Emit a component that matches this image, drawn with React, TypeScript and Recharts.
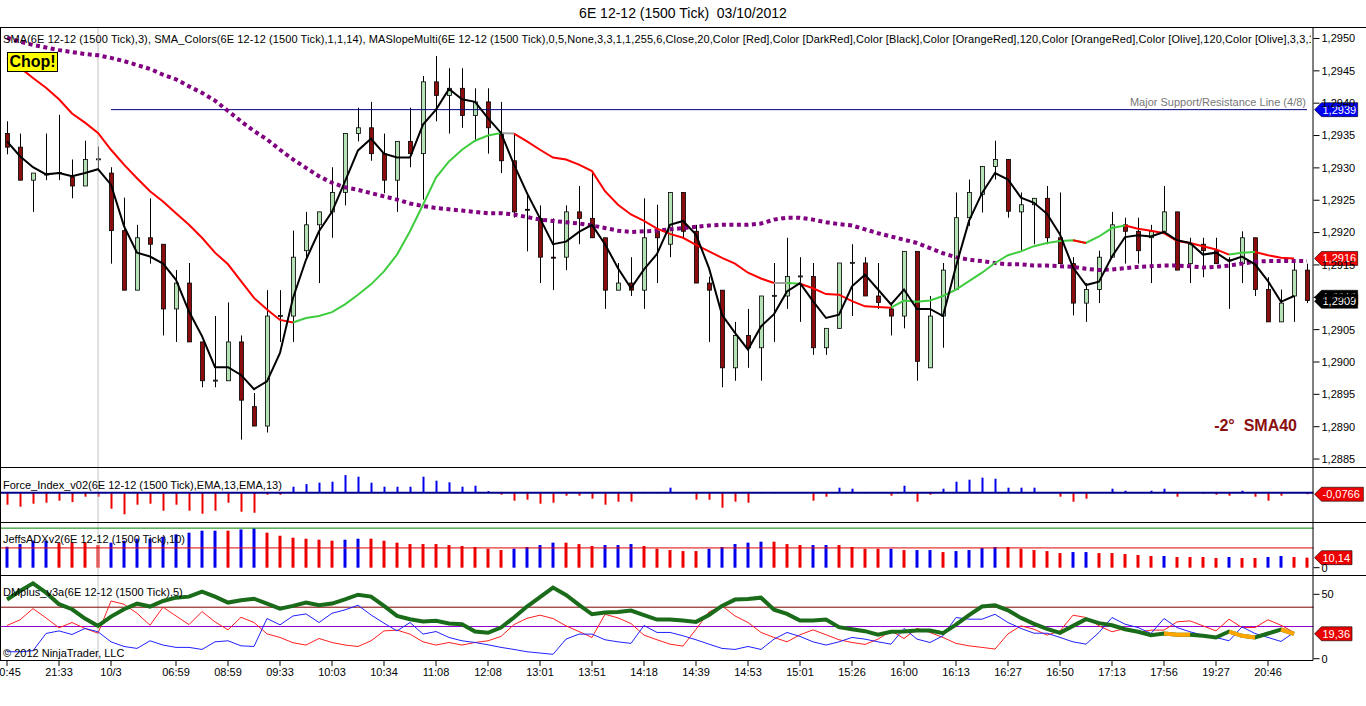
import React from 'react';
import { ComposedChart, Bar, Line, XAxis, YAxis, ReferenceLine, Cell } from 'recharts';

const FONT = '"Liberation Sans", Arial, sans-serif';
const W = 1366;
const AXIS_W = 52.5;

// 1500 tick candles, 6E 12-12
const opens = [
  1.29353, 1.29332, 1.29281, 1.29289, 1.29292, 1.29286, 1.29272, 1.29313, 1.29292, 1.29203,
  1.29111, 1.29192, 1.29182, 1.29082, 1.29122, 1.29031, 1.28971, 1.28971, 1.29031, 1.28931,
  1.28901, 1.29071, 1.29071, 1.29172, 1.29212, 1.29232, 1.29262, 1.29353, 1.29362, 1.29322,
  1.29281, 1.29341, 1.29322, 1.29433, 1.29412, 1.29423, 1.29381, 1.29402, 1.29352, 1.29311,
  1.29236, 1.29222, 1.29162, 1.29162, 1.29232, 1.29222, 1.29192, 1.29111, 1.29122, 1.29111,
  1.29202, 1.29182, 1.29262, 1.29202, 1.29122, 1.29111, 1.28991, 1.29041, 1.29022, 1.29102,
  1.29102, 1.29132, 1.29132, 1.29022, 1.29052, 1.29153, 1.29153, 1.29102, 1.29082, 1.29071,
  1.29171, 1.28991, 1.29071, 1.29112, 1.29223, 1.29259, 1.29302, 1.29313, 1.29232, 1.29243,
  1.29253, 1.29192, 1.29152, 1.29091, 1.29112, 1.29162, 1.29212, 1.29202, 1.29192, 1.29202,
  1.29232, 1.29152, 1.29182, 1.29172, 1.29158, 1.29152, 1.29192, 1.29112, 1.29062, 1.29102,
  1.29142,
];
const highs = [
  1.29372, 1.29353, 1.29292, 1.29353, 1.29382, 1.29313, 1.29342, 1.29333, 1.29301, 1.29254,
  1.29212, 1.29253, 1.29182, 1.29142, 1.29153, 1.29031, 1.29071, 1.29092, 1.29041, 1.28952,
  1.29111, 1.29111, 1.29203, 1.29232, 1.29232, 1.29301, 1.29353, 1.29393, 1.29402, 1.29353,
  1.29341, 1.29393, 1.29442, 1.29473, 1.29454, 1.29454, 1.29423, 1.29423, 1.29402, 1.29353,
  1.29262, 1.29242, 1.29222, 1.29242, 1.29272, 1.29292, 1.29192, 1.29153, 1.29162, 1.29253,
  1.29243, 1.29262, 1.29262, 1.29212, 1.29132, 1.29111, 1.29062, 1.29082, 1.29102, 1.29153,
  1.29192, 1.29162, 1.29153, 1.29052, 1.29153, 1.29182, 1.29162, 1.29153, 1.29092, 1.29171,
  1.29171, 1.29102, 1.29153, 1.29262, 1.29282, 1.29302, 1.29342, 1.29313, 1.29262, 1.29253,
  1.29272, 1.29262, 1.29162, 1.29122, 1.29172, 1.29232, 1.29223, 1.29223, 1.29212, 1.29272,
  1.29232, 1.29192, 1.29192, 1.29192, 1.29162, 1.29202, 1.29192, 1.29131, 1.29112, 1.29157,
  1.29152,
];
const lows = [
  1.29321, 1.29281, 1.29232, 1.29281, 1.29281, 1.29253, 1.29272, 1.29295, 1.29152, 1.29111,
  1.29111, 1.29152, 1.29041, 1.29031, 1.29031, 1.28961, 1.28961, 1.28971, 1.28880, 1.28901,
  1.28891, 1.29031, 1.29031, 1.29162, 1.29122, 1.29192, 1.29242, 1.29341, 1.29311, 1.29261,
  1.29232, 1.29301, 1.29251, 1.29372, 1.29353, 1.29362, 1.29341, 1.29322, 1.29292, 1.29223,
  1.29171, 1.29122, 1.29111, 1.29142, 1.29182, 1.29192, 1.29082, 1.29111, 1.29102, 1.29082,
  1.29122, 1.29162, 1.29192, 1.29122, 1.29031, 1.28961, 1.28971, 1.28991, 1.28971, 1.29031,
  1.29082, 1.29062, 1.29011, 1.29011, 1.29052, 1.29071, 1.29102, 1.29082, 1.29041, 1.29052,
  1.28971, 1.28991, 1.29022, 1.29112, 1.29210, 1.29231, 1.29282, 1.29223, 1.29171, 1.29182,
  1.29182, 1.29152, 1.29072, 1.29062, 1.29091, 1.29162, 1.29152, 1.29152, 1.29122, 1.29202,
  1.29142, 1.29122, 1.29131, 1.29152, 1.29082, 1.29122, 1.29102, 1.29062, 1.29062, 1.29062,
  1.29091,
];
const closes = [
  1.29332, 1.29281, 1.29292, 1.29291, 1.29293, 1.29272, 1.29313, 1.29314, 1.29203, 1.29111,
  1.29192, 1.29182, 1.29082, 1.29122, 1.29031, 1.28971, 1.28972, 1.29031, 1.28941, 1.28901,
  1.29071, 1.29072, 1.29162, 1.29212, 1.29232, 1.29262, 1.29353, 1.29362, 1.29322, 1.29281,
  1.29341, 1.29322, 1.29433, 1.29412, 1.29423, 1.29381, 1.29402, 1.29362, 1.29311, 1.29232,
  1.29235, 1.29162, 1.29161, 1.29232, 1.29222, 1.29192, 1.29111, 1.29122, 1.29111, 1.29192,
  1.29192, 1.29262, 1.29202, 1.29122, 1.29111, 1.28991, 1.29041, 1.29022, 1.29102, 1.29103,
  1.29132, 1.29133, 1.29022, 1.29052, 1.29153, 1.29154, 1.29102, 1.29092, 1.29071, 1.29171,
  1.29001, 1.29071, 1.29142, 1.29223, 1.29262, 1.29302, 1.29313, 1.29233, 1.29243, 1.29253,
  1.29192, 1.29152, 1.29091, 1.29112, 1.29162, 1.29212, 1.29202, 1.29172, 1.29202, 1.29232,
  1.29142, 1.29182, 1.29172, 1.29152, 1.29157, 1.29192, 1.29112, 1.29062, 1.29091, 1.29142,
  1.29095,
];

// SMA(3), black
const sma3 = [
  1.29341, 1.29318, 1.29301, 1.29290, 1.29292, 1.29287, 1.29292, 1.29298, 1.29274, 1.29210,
  1.29169, 1.29163, 1.29152, 1.29127, 1.29078, 1.29040, 1.28992, 1.28992, 1.28980, 1.28958,
  1.28970, 1.29014, 1.29099, 1.29158, 1.29202, 1.29232, 1.29279, 1.29327, 1.29345, 1.29322,
  1.29316, 1.29316, 1.29367, 1.29390, 1.29422, 1.29406, 1.29402, 1.29377, 1.29354, 1.29305,
  1.29261, 1.29222, 1.29182, 1.29186, 1.29201, 1.29212, 1.29182, 1.29145, 1.29114, 1.29143,
  1.29167, 1.29212, 1.29218, 1.29197, 1.29145, 1.29073, 1.29045, 1.29019, 1.29055, 1.29074,
  1.29109, 1.29122, 1.29094, 1.29068, 1.29073, 1.29117, 1.29135, 1.29112, 1.29089, 1.29112,
  1.29082, 1.29082, 1.29071, 1.29148, 1.29218, 1.29261, 1.29292, 1.29282, 1.29254, 1.29246,
  1.29229, 1.29197, 1.29146, 1.29119, 1.29124, 1.29163, 1.29193, 1.29196, 1.29194, 1.29201,
  1.29188, 1.29184, 1.29166, 1.29169, 1.29156, 1.29163, 1.29151, 1.29125, 1.29093, 1.29102,
  null,
];

// SMA_Colors(14): value + colour segments
const sma14 = [
  1.29470, 1.29455, 1.29439, 1.29424, 1.29406, 1.29384, 1.29370, 1.29354, 1.29328, 1.29305,
  1.29284, 1.29264, 1.29248, 1.29230, 1.29212, 1.29192, 1.29169, 1.29151, 1.29125, 1.29099,
  1.29081, 1.29065, 1.29061, 1.29068, 1.29071, 1.29077, 1.29089, 1.29104, 1.29120, 1.29140,
  1.29166, 1.29202, 1.29243, 1.29285, 1.29310, 1.29328, 1.29342, 1.29350, 1.29354, 1.29353,
  1.29341, 1.29328, 1.29316, 1.29313, 1.29305, 1.29295, 1.29264, 1.29243, 1.29228, 1.29218,
  1.29206, 1.29198, 1.29192, 1.29181, 1.29171, 1.29161, 1.29152, 1.29138, 1.29129, 1.29122,
  1.29122, 1.29121, 1.29114, 1.29105, 1.29104, 1.29094, 1.29086, 1.29085, 1.29084, 1.29095,
  1.29093, 1.29095, 1.29102, 1.29112, 1.29125, 1.29138, 1.29153, 1.29165, 1.29171, 1.29179,
  1.29184, 1.29187, 1.29188, 1.29184, 1.29194, 1.29207, 1.29211, 1.29206, 1.29203, 1.29199,
  1.29187, 1.29184, 1.29179, 1.29174, 1.29166, 1.29169, 1.29170, 1.29165, 1.29161, 1.29160,
  null,
];
const smaSegments: [number, number, string][] = [
  [0, 22, 'red'], [22, 38, 'green'], [38, 39, 'gray'], [39, 59, 'red'], [59, 60, 'gray'],
  [60, 61, 'green'], [61, 68, 'red'], [68, 82, 'green'], [82, 83, 'red'], [83, 86, 'green'],
  [86, 94, 'red'], [94, 96, 'green'], [96, 99, 'red'],
];

// MASlopeMulti long average, purple dotted
const sma120 = [
  1.29501, 1.29495, 1.29490, 1.29486, 1.29482, 1.29479, 1.29476, 1.29474, 1.29470, 1.29465,
  1.29459, 1.29453, 1.29444, 1.29437, 1.29426, 1.29416, 1.29404, 1.29388, 1.29372, 1.29357,
  1.29344, 1.29328, 1.29313, 1.29300, 1.29287, 1.29277, 1.29270, 1.29266, 1.29261, 1.29256,
  1.29251, 1.29245, 1.29241, 1.29238, 1.29236, 1.29234, 1.29232, 1.29230, 1.29230, 1.29228,
  1.29224, 1.29220, 1.29218, 1.29216, 1.29214, 1.29211, 1.29207, 1.29203, 1.29201, 1.29202,
  1.29203, 1.29205, 1.29207, 1.29209, 1.29211, 1.29212, 1.29212, 1.29212, 1.29214, 1.29220,
  1.29223, 1.29223, 1.29220, 1.29216, 1.29213, 1.29211, 1.29205, 1.29199, 1.29194, 1.29189,
  1.29184, 1.29176, 1.29168, 1.29162, 1.29158, 1.29156, 1.29153, 1.29151, 1.29151, 1.29149,
  1.29149, 1.29148, 1.29147, 1.29144, 1.29142, 1.29143, 1.29145, 1.29147, 1.29148, 1.29149,
  1.29149, 1.29148, 1.29146, 1.29147, 1.29149, 1.29152, 1.29155, 1.29156, 1.29156, 1.29156,
  1.29156,
];

const forceIndex = [
  -0.60, -0.70, -0.55, -0.50, -0.40, -0.47, -0.20, -0.20, -0.80, -1.08,
  -0.60, -0.55, -0.90, -0.60, -0.90, -1.05, -0.90, -0.50, -0.95, -1.00,
  -0.10, -0.10, 0.30, 0.43, 0.50, 0.55, 0.88, 0.80, 0.50, 0.30,
  0.30, 0.30, 0.80, 0.60, 0.52, 0.30, 0.35, 0.08, -0.10, -0.40,
  -0.35, -0.55, -0.50, -0.15, -0.15, -0.30, -0.60, -0.45, -0.45, -0.03,
  -0.03, 0.25, 0.0, -0.35, -0.35, -0.75, -0.45, -0.50, -0.03, -0.03,
  0.0, 0.01, -0.40, -0.20, 0.25, 0.20, -0.03, 0.01, -0.15, 0.35,
  -0.45, -0.10, 0.20, 0.55, 0.65, 0.75, 0.70, 0.25, 0.25, 0.25,
  -0.02, -0.20, -0.45, -0.30, 0.01, 0.20, 0.10, 0.02, 0.10, 0.20,
  -0.20, 0.01, -0.05, -0.10, -0.15, 0.10, -0.20, -0.40, -0.15, 0.01,
  -0.0766,
];

const adx = [
  21.2, 23.9, 27.3, 27.3, 25.3, 25.3, 25.3, 22.9, 25.3, 27.3,
  29.3, 29.3, 31.3, 33.7, 35.4, 37.4, 37.4, 37.4, 38.7, 39.7,
  35.4, 32.3, 30.3, 29.3, 28.3, 27.3, 28.3, 29.3, 29.3, 27.3,
  25.3, 23.9, 23.9, 23.9, 22.9, 21.9, 20.9, 19.2, 17.8, 19.2,
  20.9, 22.9, 25.3, 25.3, 23.9, 21.9, 22.9, 22.9, 23.9, 21.9,
  19.2, 17.8, 16.8, 16.8, 19.2, 20.9, 23.9, 25.3, 26.3, 26.3,
  23.9, 22.9, 22.9, 22.9, 22.9, 20.9, 19.2, 19.2, 19.2, 17.8,
  17.8, 17.8, 15.8, 16.8, 17.8, 19.9, 20.9, 20.9, 19.2, 17.8,
  16.8, 14.8, 15.8, 15.8, 14.8, 14.8, 13.8, 12.8, 11.8, 11.8,
  10.8, 10.8, 10.8, 9.8, 10.8, 9.8, 9.8, 10.8, 11.8, 10.8,
  10.14,
];
// b = rising (blue), r = falling (red)
const adxDir = (
  'bbbb' + 'rrrr' + 'bbbbbbbbb' + 'r' + 'bb' + 'rrrrrr' + 'bb' + 'rrrrrrrrrrr' + 'bbbb' + 'rrr' +
  'bbb' + 'rrrrr' + 'bbbbb' + 'rrr' + 'bb' + 'rrrr' + 'b' + 'r' + 'bb' + 'r' + 'bbbb' + 'rrrrr' +
  'bb' + 'rrrrr' + 'b' + 'rrrr' + 'b' + 'rr' + 'bb' + 'rr'
).split('');

const dmTrend = [
  46, 52.6, 58.5, 51.3, 42.3, 38.4, 31.2, 25.5, 32.7, 38.4,
  42.8, 40.5, 44.8, 47.4, 48.2, 52, 48.2, 43.6, 45.4, 46.6,
  42.8, 38.9, 41, 43.6, 41.5, 42.8, 46.1, 49.7, 48.2, 41,
  33.2, 30.7, 28.9, 29.4, 27.3, 26.8, 21.1, 20.1, 24.2, 32,
  40.5, 47.9, 55.2, 49.5, 41.8, 34.5, 35.8, 36.3, 37.4, 33.8,
  30.4, 30.4, 29.6, 28.6, 34, 41, 45.9, 46.4, 47.4, 38.1,
  34.8, 29.6, 29.6, 30.4, 24.5, 22.9, 21.4, 18.6, 20.9, 21.1,
  21.9, 21.9, 19.8, 26.5, 33.8, 40.5, 41.5, 37.6, 31.7, 27.1,
  23.2, 20.1, 25.5, 30.7, 27.6, 26, 22.9, 20.9, 18.3, 19.6,
  18.6, 18.6, 17.8, 16.5, 21.1, 17.8, 16.5, 19.6, 22.7, 19.36,
  null,
];
const dmOrangeSegments: [number, number][] = [[89, 91], [94, 96], [98, 99]];
const dmRed = [
  25.8, 30.2, 38.9, 31.7, 24, 28.1, 23.5, 19.8, 44.8, 42.3,
  35.3, 26, 40, 33.2, 26.5, 36.6, 28.6, 22.4, 32.2, 28.1,
  19.3, 16.5, 12.4, 10.6, 15.7, 12.6, 10.6, 9.5, 13.9, 21.6,
  22.2, 19.1, 13.1, 10.6, 12.6, 10.6, 12.6, 13.9, 17.3, 26.5,
  31.4, 33.8, 31.2, 25.5, 21.1, 16.5, 34.5, 31.7, 27.3, 18.3,
  14.7, 11.3, 9.8, 22.9, 36.3, 41, 33.2, 28.1, 20.4, 16.5,
  13.1, 18.6, 22.4, 18.6, 14.7, 12.6, 11.1, 15.2, 21.6, 15.7,
  23.5, 20.4, 16.5, 11.9, 10, 8.8, 7.5, 19.3, 25.5, 22.9,
  18.3, 21.6, 33.8, 32, 25.5, 20.9, 23.5, 20.4, 22.2, 22.2,
  28.6, 29.4, 25.5, 21.6, 30.7, 24.2, 24.2, 30.2, 26, 20.4,
  null,
];
const dmBlue = [
  5.4, 5.4, 6.2, 19.6, 21.6, 18.8, 23.5, 20.9, 13.1, 9.5,
  8, 13.9, 10.6, 8.8, 8.8, 7.2, 13.1, 13.9, 10, 9.5,
  31.2, 26.3, 33.2, 34.8, 28.1, 35.3, 37.9, 41.5, 34, 27.6,
  21.6, 28.1, 19.1, 21.1, 16.5, 13.9, 12.6, 10.8, 8.8, 7.2,
  5.4, 4.4, 3.4, 15.2, 19.1, 19.1, 14.7, 13.1, 11.9, 25.8,
  20.4, 20.4, 17.8, 14.7, 11.3, 8, 7.2, 9.5, 7.2, 15.2,
  20.4, 17.3, 13.1, 10.6, 13.1, 16.5, 15.2, 13.1, 11.3, 23.5,
  15.2, 12.6, 17.8, 32, 30.7, 30.7, 34.5, 28.1, 23.5, 19.8,
  19.8, 16.5, 13.1, 11.3, 20.4, 32, 26.8, 24.2, 19.6, 31.2,
  24.2, 20.9, 18.3, 16.5, 13.9, 24.7, 19.6, 16.5, 13.4, 20.4,
  null,
];

const tickIdx = [0, 4, 8, 13, 17, 21, 25, 29, 33, 37, 41, 45, 49, 53, 57, 61, 65, 69, 73, 77, 81, 85, 89, 93, 97];
const tickText = [
  '20:45', '21:33', '10/3', '06:59', '08:59', '09:33', '10:03', '10:34', '11:08', '12:08', '13:01', '13:51',
  '14:18', '14:39', '14:53', '15:01', '15:26', '16:00', '16:13', '16:27', '16:50', '17:13', '17:56', '19:27', '20:46',
];
const priceTicks = [1.2885, 1.289, 1.2895, 1.29, 1.2905, 1.291, 1.2915, 1.292, 1.2925, 1.293, 1.2935, 1.294, 1.2945, 1.295];

const inSeg = (i: number, color: string) => smaSegments.some(([a, b, c]) => c === color && i >= a && i <= b);
const inOrange = (i: number) => dmOrangeSegments.some(([a, b]) => i >= a && i <= b);

const rows = opens.map((open, i) => ({
  i,
  open,
  high: highs[i],
  low: lows[i],
  close: closes[i],
  sma3: sma3[i],
  slow: sma120[i],
  smaRed: inSeg(i, 'red') ? sma14[i] : null,
  smaGreen: inSeg(i, 'green') ? sma14[i] : null,
  smaGray: inSeg(i, 'gray') ? sma14[i] : null,
  force: forceIndex[i],
  adx: adx[i],
  dir: adxDir[i],
  dmTrend: dmTrend[i],
  dmOrange: inOrange(i) ? dmTrend[i] : null,
  dmRed: dmRed[i],
  dmBlue: dmBlue[i],
}));

const fmtPrice = (v: number) => v.toFixed(4).replace('.', ',');
const tickLabel = (v: number) => {
  const k = tickIdx.indexOf(v);
  return k >= 0 ? tickText[k] : '';
};

function Candle(props: any) {
  const { x, y, width, height, payload } = props;
  if (!payload || height == null) return null;
  const top = Math.min(y, y + height);
  const h = Math.abs(height);
  const { open, close, high, low } = payload;
  const k = high > low ? h / (high - low) : 0;
  const yOf = (v: number) => top + (high - v) * k;
  const cx = Math.round(x + width / 2) + 0.5;
  const up = close >= open;
  const bTop = yOf(Math.max(open, close));
  const bBot = yOf(Math.min(open, close));
  return (
    <g>
      <line x1={cx} x2={cx} y1={top} y2={top + h} stroke="#000" strokeWidth={1} />
      <rect
        x={cx - 2}
        y={bTop}
        width={4}
        height={Math.max(bBot - bTop, 1)}
        fill={up ? '#b4e2b4' : '#8b0c0c'}
        stroke="#000"
        strokeWidth={0.8}
      />
    </g>
  );
}

function PriceTag(props: any) {
  const { viewBox, text, fill } = props;
  if (!viewBox) return null;
  const x0 = viewBox.x + viewBox.width + 1;
  const y0 = viewBox.y;
  const bx = x0 + 7;
  const bw = text.length * 5.7 + 2;
  const h = 14;
  return (
    <g>
      <path
        d={`M${x0},${y0} L${bx},${y0 - h / 2} L${bx + bw},${y0 - h / 2} L${bx + bw},${y0 + h / 2} L${bx},${y0 + h / 2} Z`}
        fill={fill}
        stroke="#000"
        strokeWidth={0.6}
      />
      <text x={bx + 1} y={y0} dy="0.36em" fill="#fff" fontSize={11} fontFamily={FONT}>
        {text}
      </text>
    </g>
  );
}

const tickStyle = { fill: '#000', fontSize: 11, fontFamily: FONT };
const noAnim = { isAnimationActive: false, dot: false, activeDot: false } as const;

function MainPanel() {
  return (
    <ComposedChart width={W} height={467} data={rows} margin={{ top: 28, right: 0, bottom: 0, left: 0.5 }}>
      <XAxis dataKey="i" type="category" scale="band" hide />
      <YAxis
        orientation="right"
        type="number"
        domain={[1.288377, 1.295162]}
        allowDataOverflow
        ticks={priceTicks}
        interval={0}
        width={AXIS_W}
        axisLine={false}
        tickLine={{ stroke: '#000' }}
        tickSize={6}
        tickMargin={2}
        tick={tickStyle}
        tickFormatter={fmtPrice}
      />
      <ReferenceLine x={7} stroke="#c4c4c4" />
      <ReferenceLine segment={[{ x: 8, y: 1.2939 }, { x: 100, y: 1.2939 }]} stroke="#000080" />
      <Bar dataKey={(d: any) => [d.low, d.high]} shape={<Candle />} barSize={5} isAnimationActive={false} />
      <Line dataKey="slow" stroke="#800080" strokeWidth={4} strokeDasharray="4 3.5" {...noAnim} />
      <Line dataKey="smaGreen" stroke="#3fcc3f" strokeWidth={2} {...noAnim} />
      <Line dataKey="smaGray" stroke="#a0a0a0" strokeWidth={2} {...noAnim} />
      <Line dataKey="smaRed" stroke="#ff0000" strokeWidth={2} {...noAnim} />
      <Line dataKey="sma3" stroke="#000" strokeWidth={2} {...noAnim} />
      <ReferenceLine y={1.2939} stroke="none" label={<PriceTag text="1,2939" fill="#0000f0" />} />
      <ReferenceLine y={1.2916} stroke="none" label={<PriceTag text="1,2916" fill="#f00000" />} />
      <ReferenceLine y={1.291} stroke="none" label={<PriceTag text="1,2910" fill="#000" />} />
      <ReferenceLine y={1.29094} stroke="none" label={<PriceTag text="1,2909" fill="#000" />} />
    </ComposedChart>
  );
}

function ForcePanel() {
  return (
    <ComposedChart width={W} height={55} data={rows} margin={{ top: 0, right: 0, bottom: 0, left: 0.5 }}>
      <XAxis dataKey="i" type="category" scale="band" hide />
      <YAxis orientation="right" type="number" domain={[-1.465, 1.285]} allowDataOverflow width={AXIS_W} tick={false} tickLine={false} axisLine={false} />
      <ReferenceLine x={7} stroke="#c4c4c4" />
      <Bar dataKey="force" barSize={2} isAnimationActive={false}>
        {rows.map((r) => (
          <Cell key={r.i} fill={r.force >= 0 ? '#0000ee' : '#ee0000'} />
        ))}
      </Bar>
      <ReferenceLine y={0} stroke="#00008b" strokeWidth={2} />
      <ReferenceLine y={-0.0766} stroke="none" label={<PriceTag text="-0,0766" fill="#ee0000" />} />
    </ComposedChart>
  );
}

function AdxPanel() {
  return (
    <ComposedChart width={W} height={53} data={rows} margin={{ top: 0, right: 0, bottom: 0, left: 0.5 }}>
      <XAxis dataKey="i" type="category" scale="band" hide />
      <YAxis
        orientation="right"
        type="number"
        domain={[-7.4, 46.2]}
        allowDataOverflow
        ticks={[0]}
        interval={0}
        width={AXIS_W}
        axisLine={false}
        tickLine={{ stroke: '#000' }}
        tickSize={6}
        tickMargin={2}
        tick={tickStyle}
      />
      <ReferenceLine x={7} stroke="#c4c4c4" />
      <ReferenceLine y={40} stroke="#008000" />
      <Bar dataKey="adx" barSize={3} isAnimationActive={false}>
        {rows.map((r) => (
          <Cell key={r.i} fill={r.dir === 'b' ? '#0000ee' : '#ee0000'} />
        ))}
      </Bar>
      <ReferenceLine y={20} stroke="#e00000" />
      <ReferenceLine y={10.14} stroke="none" label={<PriceTag text="10,14" fill="#ee0000" />} />
    </ComposedChart>
  );
}

function DmPanel() {
  return (
    <ComposedChart width={W} height={111} data={rows} margin={{ top: 0, right: 0, bottom: 0, left: 0.5 }}>
      <XAxis
        dataKey="i"
        type="category"
        scale="band"
        height={26}
        ticks={tickIdx}
        interval={0}
        axisLine={false}
        tickLine={{ stroke: '#000' }}
        tickSize={6}
        tickMargin={2}
        tick={tickStyle}
        tickFormatter={tickLabel}
      />
      <YAxis
        orientation="right"
        type="number"
        domain={[-1, 65]}
        allowDataOverflow
        ticks={[0, 50]}
        interval={0}
        width={AXIS_W}
        axisLine={false}
        tickLine={{ stroke: '#000' }}
        tickSize={6}
        tickMargin={2}
        tick={tickStyle}
      />
      <ReferenceLine x={7} stroke="#c4c4c4" />
      <ReferenceLine y={40} stroke="#800000" />
      <ReferenceLine y={25} stroke="#9400d3" />
      <Line dataKey="dmRed" stroke="#ff2020" strokeWidth={1} {...noAnim} />
      <Line dataKey="dmBlue" stroke="#2020ff" strokeWidth={1} {...noAnim} />
      <Line dataKey="dmTrend" stroke="#1a6b1a" strokeWidth={4} {...noAnim} />
      <Line dataKey="dmOrange" stroke="#ffa500" strokeWidth={4} {...noAnim} />
      <ReferenceLine y={19.36} stroke="none" label={<PriceTag text="19,36" fill="#e80000" />} />
    </ComposedChart>
  );
}

const txt = (extra: React.CSSProperties): React.CSSProperties => ({
  position: 'absolute',
  whiteSpace: 'pre',
  fontFamily: FONT,
  fontSize: 11,
  color: '#000',
  lineHeight: '13px',
  ...extra,
});

export default function App() {
  return (
    <div style={{ position: 'absolute', left: 0, top: 0, width: W, height: 706, background: '#fff', overflow: 'hidden' }}>
      <div style={{ position: 'absolute', left: 0, top: 0 }}>
        <MainPanel />
      </div>
      <div style={{ position: 'absolute', left: 0, top: 467 }}>
        <ForcePanel />
      </div>
      <div style={{ position: 'absolute', left: 0, top: 522 }}>
        <AdxPanel />
      </div>
      <div style={{ position: 'absolute', left: 0, top: 575 }}>
        <DmPanel />
      </div>

      <svg width={W} height={706} style={{ position: 'absolute', left: 0, top: 0, pointerEvents: 'none' }}>
        <line x1={0} x2={W} y1={27.5} y2={27.5} stroke="#000" />
        <line x1={0.5} x2={0.5} y1={27.5} y2={660.5} stroke="#000" />
        <line x1={1313} x2={1313} y1={27.5} y2={660.5} stroke="#000" />
        <line x1={0} x2={W} y1={467.5} y2={467.5} stroke="#000" />
        <line x1={0} x2={W} y1={522.5} y2={522.5} stroke="#000" />
        <line x1={0} x2={W} y1={575.5} y2={575.5} stroke="#000" />
        <line x1={0} x2={1313} y1={660.5} y2={660.5} stroke="#000" />
      </svg>

      <div style={txt({ left: 0, width: W, top: 5, fontSize: 14, lineHeight: '16px', textAlign: 'center' })}>
        6E 12-12 (1500 Tick)  03/10/2012
      </div>
      <div style={txt({ left: 3, top: 33, width: 1308, overflow: 'hidden', letterSpacing: 0.09 })}>
        SMA(6E 12-12 (1500 Tick),3), SMA_Colors(6E 12-12 (1500 Tick),1,1,14), MASlopeMulti(6E 12-12 (1500 Tick),0,5,None,3,3,1,1,255,6,Close,20,Color [Red],Color [DarkRed],Color [Black],Color [OrangeRed],120,Color [OrangeRed],Color [Olive],120,Color [Olive],3,3,1
      </div>
      <div
        style={txt({
          left: 7,
          top: 52,
          width: 49,
          height: 18,
          background: '#ffff00',
          border: '1px solid #000',
          fontSize: 16,
          fontWeight: 'bold',
          lineHeight: '18px',
          textAlign: 'center',
        })}
      >
        Chop!
      </div>
      <div style={txt({ left: 1000, width: 306, top: 96, textAlign: 'right', color: '#777' })}>
        Major Support/Resistance Line (4/8)
      </div>
      <div style={txt({ left: 1100, width: 197, top: 417, textAlign: 'right', fontSize: 16, fontWeight: 'bold', lineHeight: '18px', color: '#8b1010' })}>
        -2°  SMA40
      </div>
      <div style={txt({ left: 3, top: 479 })}>Force_Index_v02(6E 12-12 (1500 Tick),EMA,13,EMA,13)</div>
      <div style={txt({ left: 3, top: 533 })}>JeffsADXv2(6E 12-12 (1500 Tick),10)</div>
      <div style={txt({ left: 3, top: 586 })}>DMplus_v3a(6E 12-12 (1500 Tick),5)</div>
      <div style={txt({ left: 3, top: 647 })}>© 2012 NinjaTrader, LLC</div>
    </div>
  );
}
